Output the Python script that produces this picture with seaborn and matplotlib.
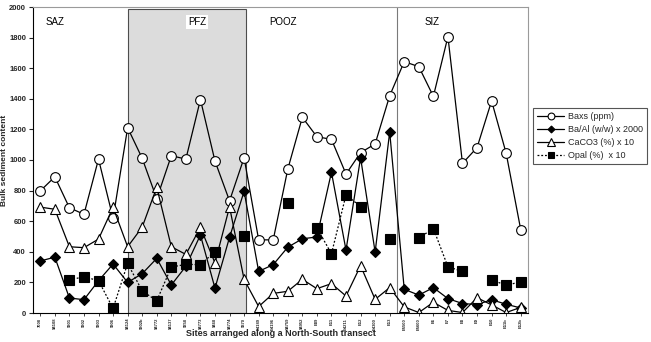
"""
Bulk sediment content along a North-South transect (Baxs, Ba/Al, CaCO3, Opal).
"""
import numpy as np
import pandas as pd
import matplotlib
matplotlib.use("Agg")
import matplotlib.pyplot as plt
from matplotlib.patches import Rectangle
import seaborn as sns

# site labels (tiny, rotated on the x axis)
sites = ["7008", "94108", "9301", "9302", "9303", "9306", "94124", "9302b", "94772",
         "94137", "9358", "94773", "9468", "94774", "9370", "E4189", "E4196", "94759",
         "94952", "E89", "E11", "E4211", "E12", "E4300", "E13", "E5500", "E5600", "E6",
         "E7", "E8", "E9", "E10", "E11b", "E12b"]

baxs = [798, 890, 688, 645, 1006, 619, 1211, 1011, 747, 1028, 1006, 1395, 993, 733,
        1015, 478, 478, 940, 1279, 1152, 1135, 908, 1048, 1105, 1420, 1643, 1610, 1416,
        1806, 978, 1081, 1386, 1044, 545]
ba_al = [340, 365, 98, 87, 211, 320, 200, 257, 357, 183, 305, 510, 162, 495, 795, 272,
         316, 430, 485, 497, 920, 411, 1015, 398, 1183, 155, 117, 166, 94, 62, 55, 87,
         57, 33]
caco3 = [692, 678, 433, 427, 483, 691, 433, 561, 822, 433, 383, 560, 327, 694, 219, 42,
         128, 142, 220, 159, 192, 111, 309, 89, 166, 40, 3, 70, 17, 3, 100, 53, 3, 37]
nan = np.nan
opal = [nan, nan, 216, 237, 211, 30, 324, 144, 80, 300, 318, 316, 401, nan, 506, nan,
        nan, 721, nan, 557, 387, 772, 696, nan, 485, nan, 490, 552, 302, 272, nan, 218,
        180, 205]

zone_names = ["SAZ", "PFZ", "POOZ", "SIZ"]
zone_label_x = [1.0, 10.76, 16.67, 26.9]
pfz_span = (6.0, 14.1)
siz_start = 24.5

df = pd.DataFrame({"site": np.arange(len(sites)), "baxs": baxs, "ba_al": ba_al,
                   "caco3": caco3, "opal": opal})
# break the opal line where values are missing
df["opal_seg"] = df["opal"].isna().cumsum()

sns.set_theme(style="white")
plt.rcParams["font.family"] = ["Liberation Sans", "DejaVu Sans"]

fig = plt.figure(figsize=(6.51, 3.42), dpi=100)
ax = fig.add_axes([33 / 651, 1 - 313 / 342, 495 / 651, 306 / 342])

ax.add_patch(Rectangle((pfz_span[0], 0), pfz_span[1] - pfz_span[0], 1985,
                       facecolor="#dcdcdc", edgecolor="#4d4d4d", lw=0.8, zorder=0))
ax.axvline(siz_start, color="#7a7a7a", lw=0.8, zorder=0.5)

common = dict(color="black", lw=0.9, markeredgecolor="black", markeredgewidth=0.8)
sns.lineplot(data=df, x="site", y="baxs", ax=ax, marker="o", markersize=7,
             markerfacecolor="white", label="Baxs (ppm)", **common)
sns.lineplot(data=df, x="site", y="ba_al", ax=ax, marker="D", markersize=5,
             markerfacecolor="black", label="Ba/Al (w/w) x 2000", **common)
sns.lineplot(data=df, x="site", y="caco3", ax=ax, marker="^", markersize=7.5,
             markerfacecolor="white", label="CaCO3 (%) x 10", **common)
sns.lineplot(data=df.dropna(subset=["opal"]), x="site", y="opal", units="opal_seg",
             estimator=None, ax=ax, marker="s", markersize=7, markerfacecolor="black",
             linestyle=(0, (1.5, 1.5)), label="Opal (%)  x 10", **common)

for name, xpos in zip(zone_names, zone_label_x):
    kw = dict(ha="center", va="center", fontsize=7, color="black", zorder=5)
    if name == "PFZ":
        kw["bbox"] = dict(facecolor="white", edgecolor="none", pad=1.5)
    ax.text(xpos, 1900, name, **kw)

ax.set_xlim(-0.5, len(sites) - 0.5)
ax.set_ylim(0, 2000)
ax.set_yticks(np.arange(0, 2001, 200))
ax.set_xticks(df["site"])
ax.set_xticklabels(sites, rotation=90, fontsize=3, fontweight="bold")
ax.tick_params(axis="y", labelsize=5.5, length=3, width=0.8, direction="out", pad=2,
               left=True)
ax.tick_params(axis="x", length=2, width=0.6, direction="out", pad=1.5, bottom=True)
for lbl in ax.get_yticklabels():
    lbl.set_fontweight("bold")

for side in ["left", "bottom"]:
    ax.spines[side].set_color("black")
    ax.spines[side].set_linewidth(0.8)
for side in ["top", "right"]:
    ax.spines[side].set_color("#9a9a9a")
    ax.spines[side].set_linewidth(0.8)

ax.set_xlabel("Sites arranged along a North-South transect", fontsize=6.5,
              fontweight="bold")
ax.set_ylabel("Bulk sediment content", fontsize=6, fontweight="bold")
ax.xaxis.set_label_coords(0.5, -0.052)
ax.yaxis.set_label_coords(-24.5 / 495, 0.5)

handles, labels = ax.get_legend_handles_labels()
uniq = dict(zip(labels, handles))
ax.legend(uniq.values(), uniq.keys(), loc="upper left",
          bbox_to_anchor=(533 / 651, 1 - 108 / 342), bbox_transform=fig.transFigure,
          fontsize=6.5, frameon=True, fancybox=False, edgecolor="#555555",
          framealpha=1, handlelength=3, handletextpad=0.4, labelspacing=0.45,
          borderpad=0.45, borderaxespad=0, markerscale=0.7)
ax.get_legend().get_frame().set_linewidth(0.8)

fig.savefig("out.png", dpi=100)
